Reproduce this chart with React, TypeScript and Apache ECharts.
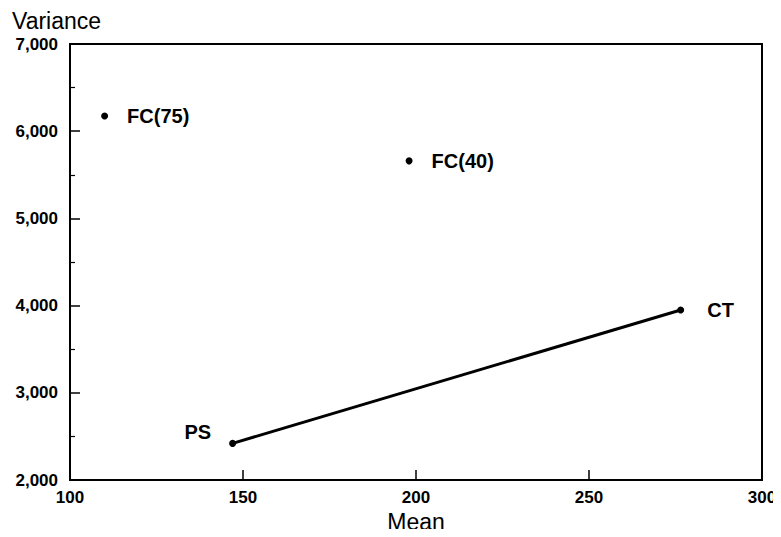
import React, { useEffect, useRef } from "react";
import * as echarts from "echarts";

const pointNames = ["FC(75)", "FC(40)"];
const pointMeans = [110, 198];
const pointVariances = [6175, 5660];

const lineNames = ["PS", "CT"];
const lineMeans = [147, 276.5];
const lineVariances = [2420, 3950];

const xTicks = [100, 150, 200, 250, 300];
const yTicks = [2000, 3000, 4000, 5000, 6000, 7000];

const FONT = "'Liberation Sans', Arial, Helvetica, sans-serif";

export default function App() {
  const ref = useRef<HTMLDivElement>(null);
  useEffect(() => {
    if (!ref.current) return;
    const chart = echarts.init(ref.current, undefined, { renderer: "svg" });
    chart.setOption({
      animation: false,
      backgroundColor: "#ffffff",
      textStyle: { fontFamily: FONT },
      grid: {
        left: 70,
        right: 19,
        top: 44,
        bottom: 57,
        show: true,
        borderColor: "#000",
        borderWidth: 2,
        outerBoundsMode: "none",
        containLabel: false,
      },
      graphic: [
        {
          type: "text",
          left: 12,
          top: 9,
          style: { text: "Variance", fontSize: 23, fontFamily: FONT, fill: "#000" },
        },
      ],
      xAxis: {
        type: "value",
        min: xTicks[0],
        max: xTicks[xTicks.length - 1],
        interval: 50,
        name: "Mean",
        nameLocation: "middle",
        nameGap: 29,
        nameTextStyle: { fontSize: 23, color: "#000", fontFamily: FONT },
        axisLine: { show: true, lineStyle: { color: "#000", width: 2 } },
        axisTick: { show: true, inside: true, length: 10, lineStyle: { color: "#000", width: 1.5 } },
        axisLabel: { color: "#000", fontSize: 17, fontWeight: "bold", margin: 9, fontFamily: FONT },
        splitLine: { show: false },
      },
      yAxis: {
        type: "value",
        min: yTicks[0],
        max: yTicks[yTicks.length - 1],
        interval: 1000,
        axisLine: { show: true, lineStyle: { color: "#000", width: 2 } },
        axisTick: { show: true, inside: true, length: 10, lineStyle: { color: "#000", width: 1.5 } },
        minorTick: { show: true, splitNumber: 2, length: 5, lineStyle: { color: "#000", width: 1.2 } },
        axisLabel: {
          color: "#000",
          fontSize: 17,
          fontWeight: "bold",
          margin: 12,
          fontFamily: FONT,
          formatter: (v: number) => v.toLocaleString("en-US"),
        },
        splitLine: { show: false },
      },
      series: [
        {
          type: "scatter",
          symbol: "circle",
          symbolSize: 7,
          itemStyle: { color: "#000", opacity: 1 },
          data: pointMeans.map((m, i) => ({ value: [m, pointVariances[i]], name: pointNames[i] })),
          label: {
            show: true,
            position: "right",
            distance: 19,
            formatter: "{b}",
            color: "#000",
            fontSize: 20,
            fontWeight: "bold",
            fontFamily: FONT,
          },
        },
        {
          type: "line",
          symbol: "circle",
          symbolSize: 7,
          showSymbol: true,
          lineStyle: { color: "#000", width: 3 },
          itemStyle: { color: "#000" },
          data: lineMeans.map((m, i) => ({
            value: [m, lineVariances[i]],
            name: lineNames[i],
            label:
              i === 0
                ? { show: true, position: "left", distance: 18, offset: [0, -11] }
                : { show: true, position: "right", distance: 23 },
          })),
          label: {
            show: true,
            formatter: "{b}",
            color: "#000",
            fontSize: 20,
            fontWeight: "bold",
            fontFamily: FONT,
          },
        },
      ],
    });
    return () => chart.dispose();
  }, []);
  return <div ref={ref} style={{ width: 781, height: 537, margin: -8 }} />;
}
